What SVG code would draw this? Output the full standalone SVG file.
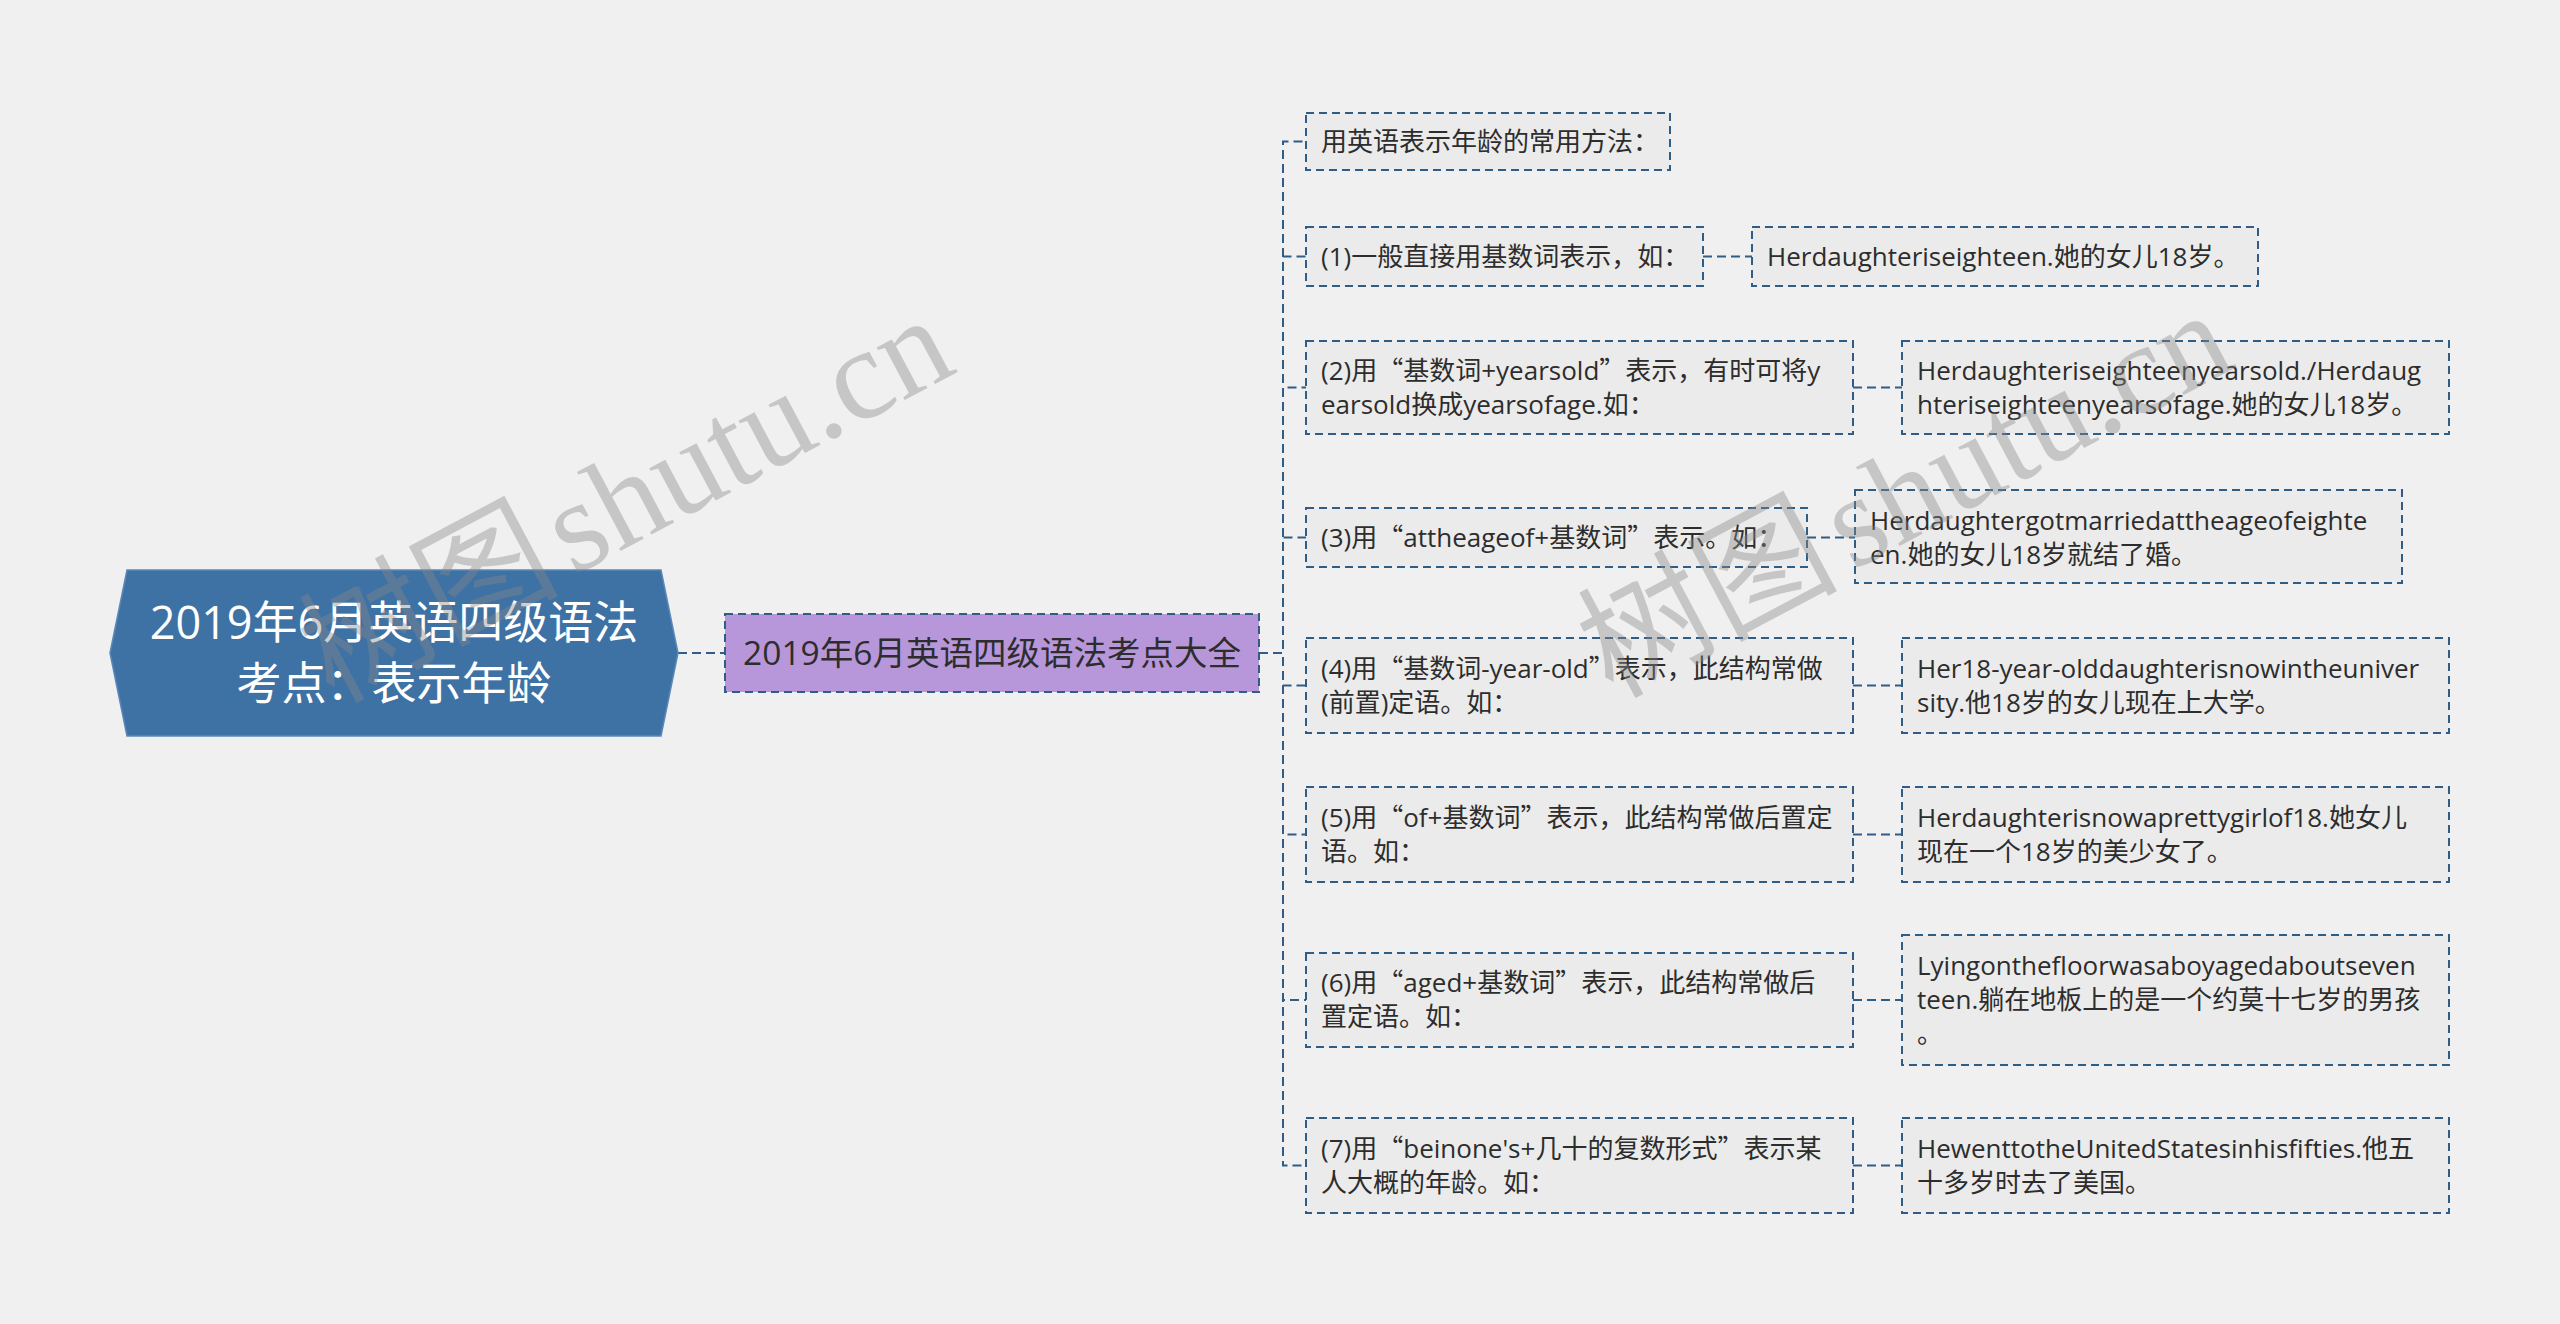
<svg xmlns="http://www.w3.org/2000/svg" width="2560" height="1324" viewBox="0 0 2560 1324">
<style>
.bg{fill:#f0f0f0}
.t{font-family:"Open Sans","Noto Sans CJK SC",sans-serif;font-size:26px;fill:#2d2d2d}
.q{font-family:"Noto Sans CJK SC",sans-serif}
.box{fill:#ebebeb;stroke:#2f5d86;stroke-width:2;stroke-dasharray:8 5}
.main{fill:#b797da;stroke:#2f5d86;stroke-width:2;stroke-dasharray:8 5}
.root{fill:#3e72a5;stroke:#5a89b8;stroke-width:1.5}
.rt{font-family:"Open Sans","Noto Sans CJK SC",sans-serif;font-size:45px;fill:#ffffff;text-anchor:middle}
.mt{font-family:"Open Sans","Noto Sans CJK SC",sans-serif;font-size:33.5px;fill:#2d2d2d;text-anchor:middle}
.c{fill:none;stroke:#2f5d86;stroke-width:2;stroke-dasharray:9 5}
.wm{font-family:"Liberation Serif","Noto Sans CJK SC",serif;font-size:130px;fill:#888888;fill-opacity:0.4}
</style>
<rect class="bg" x="0" y="0" width="2560" height="1324"/>
<g id="connectors">
<path class="c" d="M678 653 H725"/>
<path class="c" d="M1259 653 H1283 V141.5 H1306"/>
<path class="c" d="M1259 653 H1283 V256.5 H1306"/>
<path class="c" d="M1259 653 H1283 V387.5 H1306"/>
<path class="c" d="M1259 653 H1283 V537.5 H1306"/>
<path class="c" d="M1259 653 H1283 V685.5 H1306"/>
<path class="c" d="M1259 653 H1283 V834.5 H1306"/>
<path class="c" d="M1259 653 H1283 V1000 H1306"/>
<path class="c" d="M1259 653 H1283 V1165.5 H1306"/>
<path class="c" d="M1703 256.5 H1752"/>
<path class="c" d="M1853 387.5 H1902"/>
<path class="c" d="M1807 537.5 H1855"/>
<path class="c" d="M1853 685.5 H1902"/>
<path class="c" d="M1853 834.5 H1902"/>
<path class="c" d="M1853 1000 H1902"/>
<path class="c" d="M1853 1165.5 H1902"/>
</g>
<g id="root">
<polygon class="root" points="110,653 127,570 661,570 678,653 661,736 127,736"/>
<text class="rt" x="394" y="639">2019年6月英语四级语法</text>
<text class="rt" x="394" y="700">考点：表示年龄</text>
</g>
<g id="main">
<rect class="main" x="725" y="614" width="534" height="78"/>
<text class="mt" x="992" y="665">2019年6月英语四级语法考点大全</text>
</g>
<g id="c0">
<rect class="box" x="1306" y="113" width="364" height="57"/>
<text class="t" x="1321" y="150.5">用英语表示年龄的常用方法：</text>
</g>
<g id="c1">
<rect class="box" x="1306" y="227" width="397" height="59"/>
<text class="t" x="1321" y="265.5">(1)一般直接用基数词表示，如：</text>
</g>
<g id="g1">
<rect class="box" x="1752" y="227" width="506" height="59"/>
<text class="t" x="1767" y="265.5">Herdaughteriseighteen.她的女儿18岁。</text>
</g>
<g id="c2">
<rect class="box" x="1306" y="341" width="547" height="93"/>
<text class="t" x="1321" y="379.5">(2)用<tspan class="q">“</tspan>基数词+yearsold<tspan class="q">”</tspan>表示，有时可将y</text>
<text class="t" x="1321" y="413.5">earsold换成yearsofage.如：</text>
</g>
<g id="g2">
<rect class="box" x="1902" y="341" width="547" height="93"/>
<text class="t" x="1917" y="379.5">Herdaughteriseighteenyearsold./Herdaug</text>
<text class="t" x="1917" y="413.5">hteriseighteenyearsofage.她的女儿18岁。</text>
</g>
<g id="c3">
<rect class="box" x="1306" y="508" width="501" height="59"/>
<text class="t" x="1321" y="546.5">(3)用<tspan class="q">“</tspan>attheageof+基数词<tspan class="q">”</tspan>表示。如：</text>
</g>
<g id="g3">
<rect class="box" x="1855" y="490" width="547" height="93"/>
<text class="t" x="1870" y="529.5">Herdaughtergotmarriedattheageofeighte</text>
<text class="t" x="1870" y="563.5">en.她的女儿18岁就结了婚。</text>
</g>
<g id="c4">
<rect class="box" x="1306" y="638" width="547" height="95"/>
<text class="t" x="1321" y="677.5">(4)用<tspan class="q">“</tspan>基数词-year-old<tspan class="q">”</tspan>表示，此结构常做</text>
<text class="t" x="1321" y="711.5">(前置)定语。如：</text>
</g>
<g id="g4">
<rect class="box" x="1902" y="638" width="547" height="95"/>
<text class="t" x="1917" y="677.5">Her18-year-olddaughterisnowintheuniver</text>
<text class="t" x="1917" y="711.5">sity.他18岁的女儿现在上大学。</text>
</g>
<g id="c5">
<rect class="box" x="1306" y="787" width="547" height="95"/>
<text class="t" x="1321" y="826.5">(5)用<tspan class="q">“</tspan>of+基数词<tspan class="q">”</tspan>表示，此结构常做后置定</text>
<text class="t" x="1321" y="860.5">语。如：</text>
</g>
<g id="g5">
<rect class="box" x="1902" y="787" width="547" height="95"/>
<text class="t" x="1917" y="826.5">Herdaughterisnowaprettygirlof18.她女儿</text>
<text class="t" x="1917" y="860.5">现在一个18岁的美少女了。</text>
</g>
<g id="c6">
<rect class="box" x="1306" y="953" width="547" height="94"/>
<text class="t" x="1321" y="992">(6)用<tspan class="q">“</tspan>aged+基数词<tspan class="q">”</tspan>表示，此结构常做后</text>
<text class="t" x="1321" y="1026">置定语。如：</text>
</g>
<g id="g6">
<rect class="box" x="1902" y="935" width="547" height="130"/>
<text class="t" x="1917" y="975">Lyingonthefloorwasaboyagedaboutseven</text>
<text class="t" x="1917" y="1009">teen.躺在地板上的是一个约莫十七岁的男孩</text>
<text class="t" x="1917" y="1043">。</text>
</g>
<g id="c7">
<rect class="box" x="1306" y="1118" width="547" height="95"/>
<text class="t" x="1321" y="1157.5">(7)用<tspan class="q">“</tspan>beinone's+几十的复数形式<tspan class="q">”</tspan>表示某</text>
<text class="t" x="1321" y="1191.5">人大概的年龄。如：</text>
</g>
<g id="g7">
<rect class="box" x="1902" y="1118" width="547" height="95"/>
<text class="t" x="1917" y="1157.5">HewenttotheUnitedStatesinhisfifties.他五</text>
<text class="t" x="1917" y="1191.5">十多岁时去了美国。</text>
</g>
<g id="watermark">
<text class="wm" transform="translate(333 704) rotate(-28)">树图<tspan dx="-20"> shutu.cn</tspan></text>
<text class="wm" transform="translate(1612 699) rotate(-28)">树图<tspan dx="-20"> shutu.cn</tspan></text>
</g>
</svg>
